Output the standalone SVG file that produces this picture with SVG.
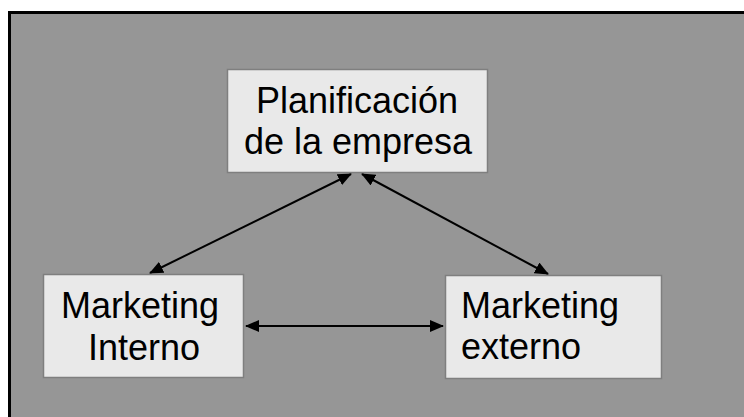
<svg xmlns="http://www.w3.org/2000/svg" width="744" height="417" viewBox="0 0 744 417">
<defs>
<style>
.box{fill:#e9e9e9;stroke:#7f7f7f;stroke-width:1.5}
.t{font-family:"Liberation Sans",Arial,sans-serif;font-size:36px;fill:#000}
.c{stroke:#000;stroke-width:2;fill:none;marker-start:url(#ah);marker-end:url(#ah)}
</style>
<marker id="ah" markerUnits="userSpaceOnUse" markerWidth="14" markerHeight="12" refX="13" refY="6" orient="auto-start-reverse" viewBox="0 0 14 12">
<path d="M0,0 L14,6 L0,12 Z" fill="#000"/>
</marker>
</defs>
<rect x="0" y="0" width="744" height="417" fill="#ffffff"/>
<rect x="9.5" y="12.5" width="740" height="410" fill="#969696" stroke="#000" stroke-width="3"/>
<g id="connectors">
<line class="c" x1="246" y1="326" x2="443" y2="326"/>
<line class="c" x1="150" y1="273" x2="351" y2="174"/>
<line class="c" x1="362" y1="174" x2="548" y2="274"/>
</g>
<g id="planificacion">
<rect class="box" x="227.5" y="69.5" width="260" height="103"/>
<text class="t" x="357" y="113" text-anchor="middle">Planificación</text>
<text class="t" x="358" y="154" text-anchor="middle">de la empresa</text>
</g>
<g id="marketing-interno">
<rect class="box" x="43.5" y="274.5" width="200" height="103"/>
<text class="t" x="140" y="318" text-anchor="middle">Marketing</text>
<text class="t" x="144" y="360" text-anchor="middle">Interno</text>
</g>
<g id="marketing-externo">
<rect class="box" x="445.5" y="275.5" width="216" height="103"/>
<text class="t" x="461" y="318">Marketing</text>
<text class="t" x="461" y="359">externo</text>
</g>
</svg>
